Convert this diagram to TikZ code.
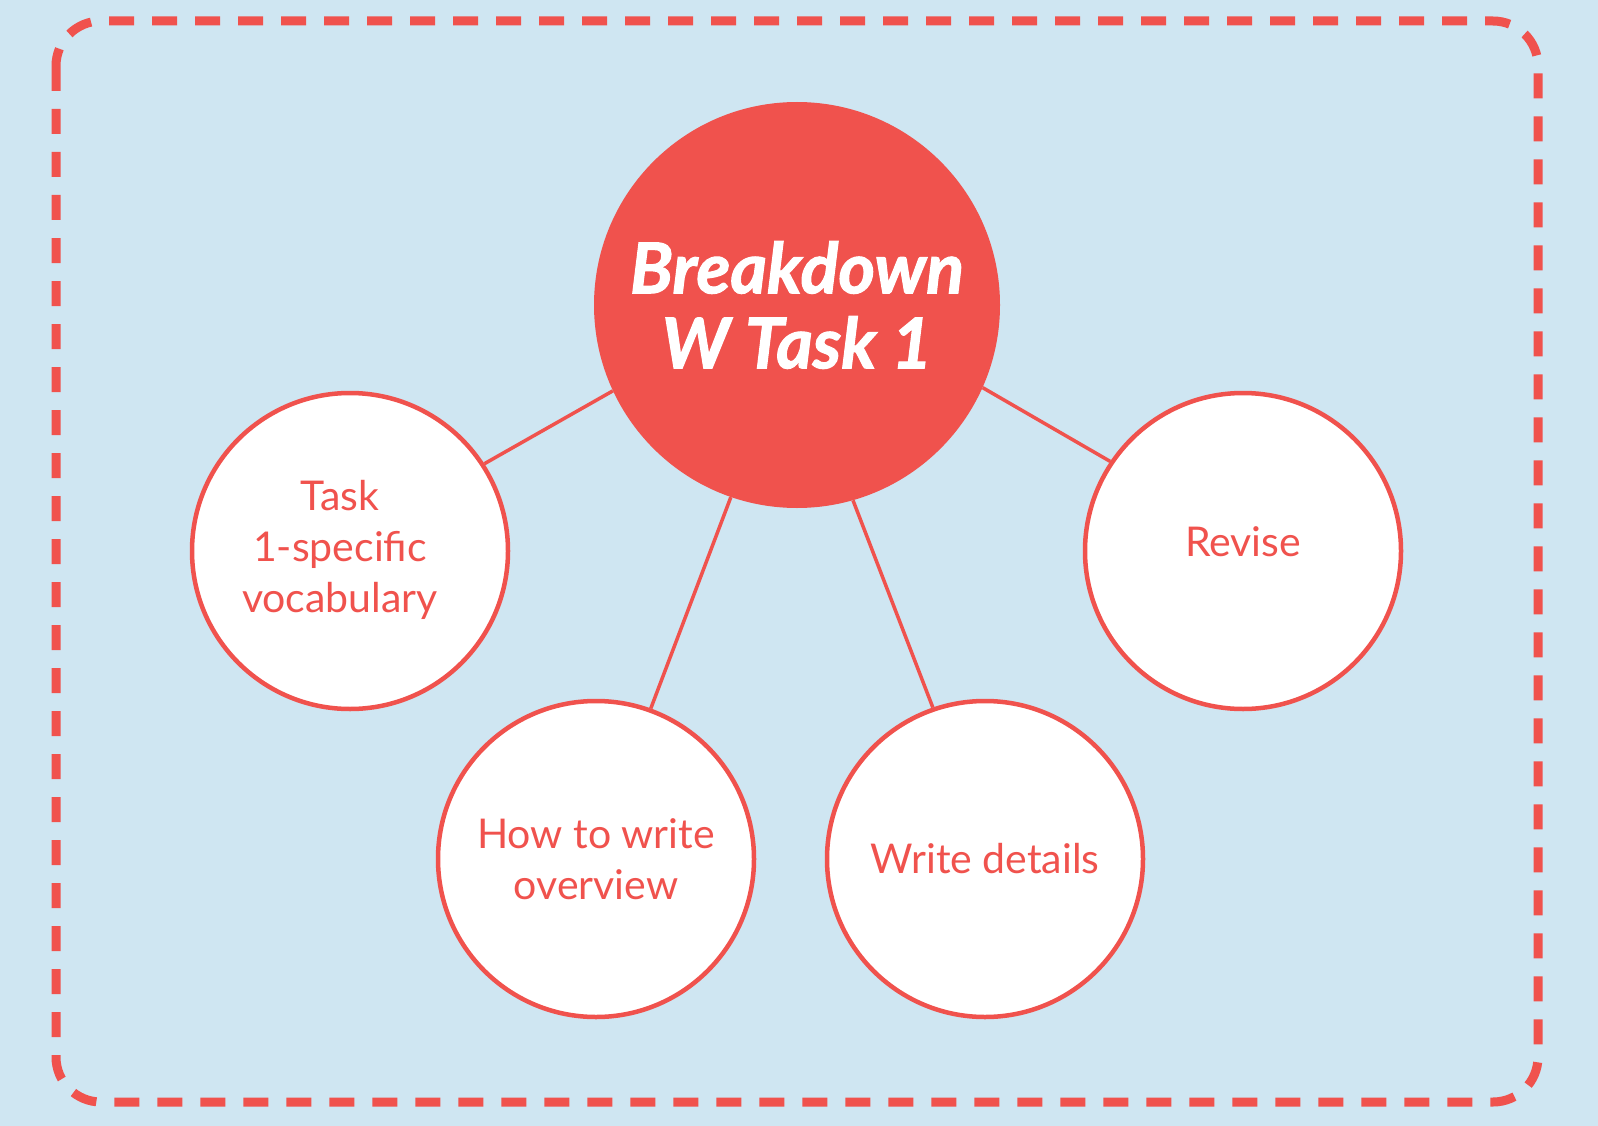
\documentclass[tikz,border=0pt]{standalone}
\usepackage{fontspec}
\setmainfont{Lato}
\newfontfamily\titlefont[FakeBold=1.6]{Lato}
\definecolor{skyblue}{HTML}{CFE6F2}
\definecolor{coral}{HTML}{F0524D}
\tikzset{
  hubnode/.style={circle,fill=coral,minimum size=406pt,inner sep=0pt,
    text=white,align=center,font=\titlefont\bfseries\itshape\fontsize{70}{75}\selectfont},
  bubble/.style={circle,draw=coral,line width=4.5pt,fill=white,minimum size=316pt,
    inner sep=0pt,text=coral,align=center,font=\fontsize{41}{51}\selectfont},
  spoke/.style={draw=coral,line width=3.5pt}
}
\begin{document}
\begin{tikzpicture}[x=1pt,y=-1pt]
  \fill[skyblue] (0,0) rectangle (1598,1126);
  \useasboundingbox (0,0) rectangle (1598,1126);
  \draw[coral,line width=9pt,rounded corners=45pt,dash pattern=on 25pt off 18pt]
    (56,21) rectangle (1538,1102);
  \node[hubnode] (hub) at (797,305) {Breakdown\\W Task 1};
  \node[bubble] (vocab) at (350,551) {\hspace*{-20pt}\begin{tabular}{@{}c@{}}Task\\1-specific\\vocabulary\end{tabular}};
  \node[bubble] (overview) at (596,859) {How to write\\overview};
  \node[bubble] (details) at (985,859) {Write details};
  \node[bubble] (revise) at (1243,551) {\raisebox{18pt}{Revise}};
  \draw[spoke] (hub.-155) -- (vocab.33);
  \draw[spoke] (hub.-109) -- (overview.70);
  \draw[spoke] (hub.-74) -- (details.109);
  \draw[spoke] (hub.-24) -- (revise.146);
\end{tikzpicture}
\end{document}
